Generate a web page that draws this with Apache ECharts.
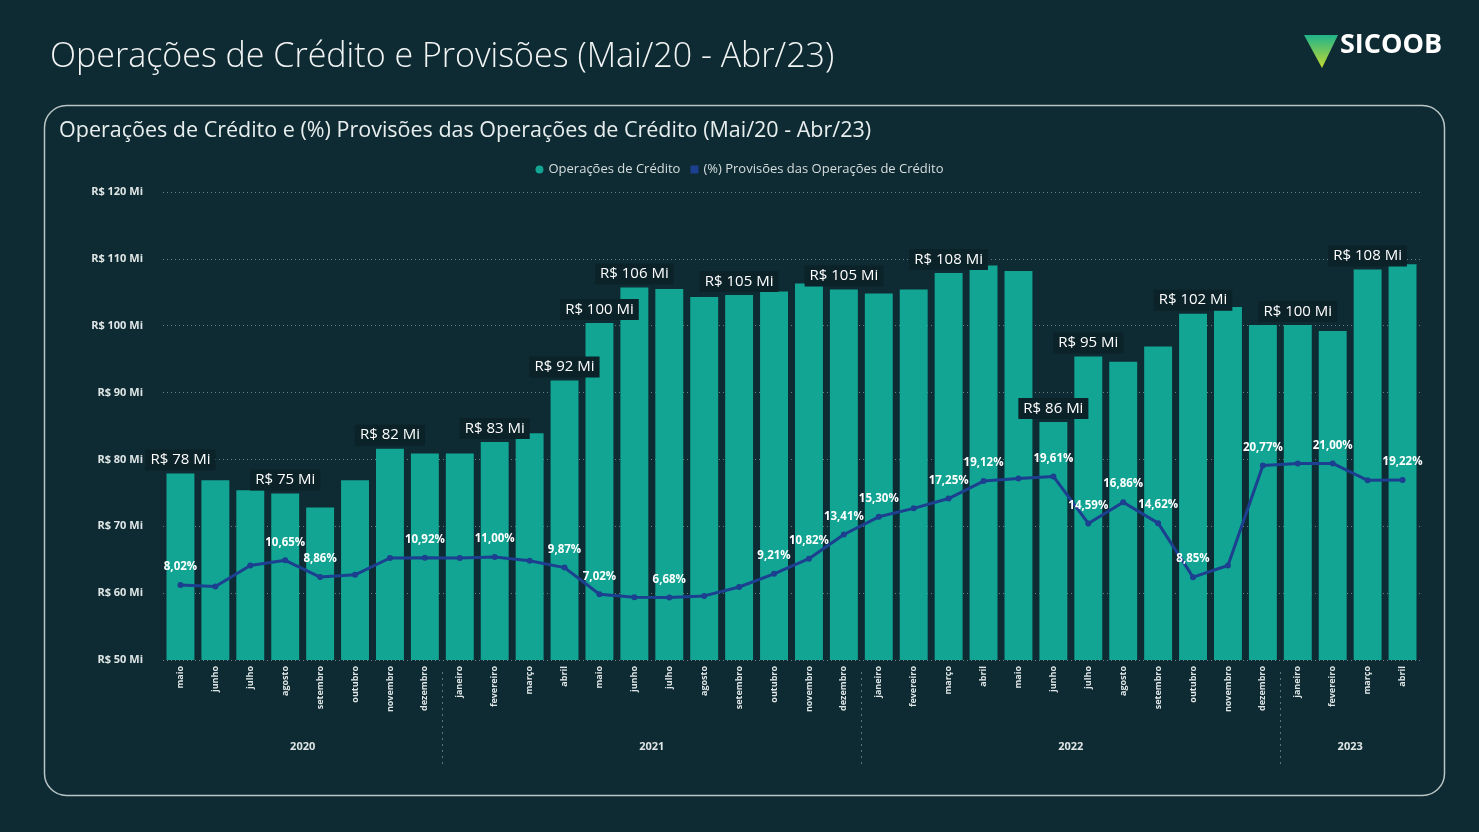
<!DOCTYPE html>
<html>
<head>
<meta charset="utf-8">
<script src="https://cdn.jsdelivr.net/npm/echarts@6/dist/echarts.min.js"></script>
<style>
  html, body { margin: 0; padding: 0; background: #0e2a32; }
  #chart { width: 1479px; height: 832px; }
</style>
</head>
<body>
<div id="chart"></div>
<script>
// meses (mai/20 - abr/23)
var meses = ['maio', 'junho', 'julho', 'agosto', 'setembro', 'outubro', 'novembro', 'dezembro',
  'janeiro', 'fevereiro', 'março', 'abril', 'maio', 'junho', 'julho', 'agosto', 'setembro', 'outubro', 'novembro', 'dezembro',
  'janeiro', 'fevereiro', 'março', 'abril', 'maio', 'junho', 'julho', 'agosto', 'setembro', 'outubro', 'novembro', 'dezembro',
  'janeiro', 'fevereiro', 'março', 'abril'];
var anos = ['2020', '2020', '2020', '2020', '2020', '2020', '2020', '2020',
  '2021', '2021', '2021', '2021', '2021', '2021', '2021', '2021', '2021', '2021', '2021', '2021',
  '2022', '2022', '2022', '2022', '2022', '2022', '2022', '2022', '2022', '2022', '2022', '2022',
  '2023', '2023', '2023', '2023'];
// Operações de Crédito (R$ milhões)
var operacoes = [77.9, 76.9, 75.4, 74.9, 72.8, 76.9, 81.6, 80.9,
  80.9, 82.6, 83.9, 91.8, 100.4, 105.7, 105.5, 104.3, 104.6, 105.1, 106.3, 105.4,
  104.8, 105.4, 107.9, 109.0, 108.2, 85.6, 95.4, 94.6, 96.9, 101.8, 102.8, 100.1,
  100.1, 99.2, 108.4, 109.2];
// (%) Provisões das Operações de Crédito
var provisoes = [8.02, 7.85, 10.1, 10.65, 8.86, 9.1, 10.9, 10.92,
  10.9, 11.00, 10.6, 9.87, 7.02, 6.7, 6.68, 6.85, 7.8, 9.21, 10.82, 13.41,
  15.30, 16.2, 17.25, 19.12, 19.4, 19.61, 14.59, 16.86, 14.62, 8.85, 10.1, 20.77,
  21.0, 21.00, 19.2, 19.22];
// rótulos visíveis (como no Power BI)
var rotulosBarra = [0, 3, 6, 9, 11, 12, 13, 16, 19, 22, 25, 26, 29, 32, 34];
var rotulosLinha = [0, 3, 4, 7, 9, 11, 12, 14, 17, 18, 19, 20, 22, 23, 25, 26, 27, 28, 29, 31, 33, 35];
var eixoY = { min: 50, max: 120, intervalo: 10 };

var chart = echarts.init(document.getElementById('chart'));

// posição dos anos (centro do grupo) e separadores
var centrosAno = [], separadores = [], nomesAno = {};
var ini = 0;
for (var i = 1; i <= anos.length; i++) {
  if (i == anos.length || anos[i] != anos[ini]) {
    var c = (ini + i - 1) / 2;
    centrosAno.push(c);
    nomesAno[c] = anos[ini];
    if (i < anos.length) separadores.push(i - 0.5);
    ini = i;
  }
}

var fonte = '"Open Sans", "Noto Sans", sans-serif';

var option = {
  backgroundColor: '#0e2a32',
  textStyle: { fontFamily: fonte },
  title: [
    {
      text: 'Operações de Crédito e Provisões (Mai/20 - Abr/23)',
      left: 45, top: 35,
      textStyle: { color: '#f2f4f4', fontSize: 34, fontWeight: 300, fontFamily: fonte }
    },
    {
      text: 'Operações de Crédito e (%) Provisões das Operações de Crédito (Mai/20 - Abr/23)',
      left: 54, top: 115,
      textStyle: { color: '#e8eeee', fontSize: 21.5, fontWeight: 400, fontFamily: fonte }
    }
  ],
  legend: {
    top: 158, left: 'center',
    itemWidth: 8, itemHeight: 8, itemGap: 10,
    textStyle: { color: '#d5dede', fontSize: 13 },
    data: [
      { name: 'Operações de Crédito', icon: 'circle' },
      { name: '(%) Provisões das Operações de Crédito', icon: 'rect' }
    ]
  },
  graphic: [
    {
      type: 'rect', left: 42, top: 103,
      shape: { width: 1400, height: 690, r: 22 },
      style: { fill: 'none', stroke: '#b9c6c6', lineWidth: 1.5 }
    },
    {
      type: 'polygon',
      shape: { points: [[1304, 35], [1338, 35], [1322, 68]] },
      style: {
        fill: new echarts.graphic.LinearGradient(0, 0, 0, 1, [
          { offset: 0, color: '#1fb48a' }, { offset: 1, color: '#c4d931' }
        ])
      }
    },
    {
      type: 'text', left: 1340, top: 32,
      style: { text: 'SICOOB', fill: '#ffffff', font: 'bold 27px "Open Sans", sans-serif' }
    }
  ],
  grid: { left: 163, right: 59, top: 192, bottom: 172 },
  xAxis: [
    {
      type: 'category',
      data: meses,
      axisLine: { show: false },
      axisTick: { show: false },
      axisLabel: { rotate: 90, color: '#dfe6e6', fontSize: 9, fontWeight: 'bold', margin: 6 }
    },
    {
      type: 'value',
      min: -0.5, max: anos.length - 0.5,
      position: 'bottom', offset: 104,
      axisLine: { show: false },
      splitLine: { show: false },
      axisTick: {
        show: true, inside: true, length: 96, customValues: separadores,
        lineStyle: { color: '#5d7378', type: [2, 4], width: 1 }
      },
      axisLabel: {
        inside: true, margin: 12, customValues: centrosAno,
        color: '#dfe6e6', fontSize: 11, fontWeight: 'bold',
        formatter: function (v) { return nomesAno[v] || ''; }
      }
    }
  ],
  yAxis: [
    {
      type: 'value',
      min: eixoY.min, max: eixoY.max, interval: eixoY.intervalo,
      axisLine: { show: false, onZero: false },
      axisTick: { show: false },
      axisLabel: {
        color: '#dfe6e6', fontSize: 11, fontWeight: 'bold', margin: 20,
        formatter: function (v) { return 'R$ ' + v + ' Mi'; }
      },
      splitLine: { lineStyle: { color: '#6b7f83', type: [1, 3], width: 1 } }
    },
    {
      type: 'value', min: 0, max: 50, show: false,
      axisLine: { show: false, onZero: false },
      splitLine: { show: false }
    }
  ],
  series: [
    {
      name: 'Operações de Crédito',
      type: 'bar',
      data: operacoes.map(function (v, i) {
        return {
          value: v,
          label: { show: rotulosBarra.indexOf(i) >= 0 }
        };
      }),
      barCategoryGap: '20%',
      itemStyle: { color: '#12a594' },
      label: {
        position: 'top', distance: 3,
        color: '#ffffff', fontSize: 15,
        backgroundColor: '#0c2229', padding: [3, 5, 3, 5],
        formatter: function (p) { return 'R$ ' + Math.round(p.value) + ' Mi'; }
      }
    },
    {
      name: '(%) Provisões das Operações de Crédito',
      type: 'line',
      yAxisIndex: 1,
      data: provisoes.map(function (v, i) {
        return {
          value: v,
          label: { show: rotulosLinha.indexOf(i) >= 0 }
        };
      }),
      symbol: 'circle', symbolSize: 6,
      lineStyle: { color: '#1c3f8f', width: 3 },
      itemStyle: { color: '#1c3f8f' },
      label: {
        position: 'top', distance: 9,
        color: '#ffffff', fontSize: 11.5, fontWeight: 'bold',
        formatter: function (p) { return p.value.toFixed(2).replace('.', ',') + '%'; }
      },
      z: 5
    }
  ]
};

chart.setOption(option);
</script>
</body>
</html>
